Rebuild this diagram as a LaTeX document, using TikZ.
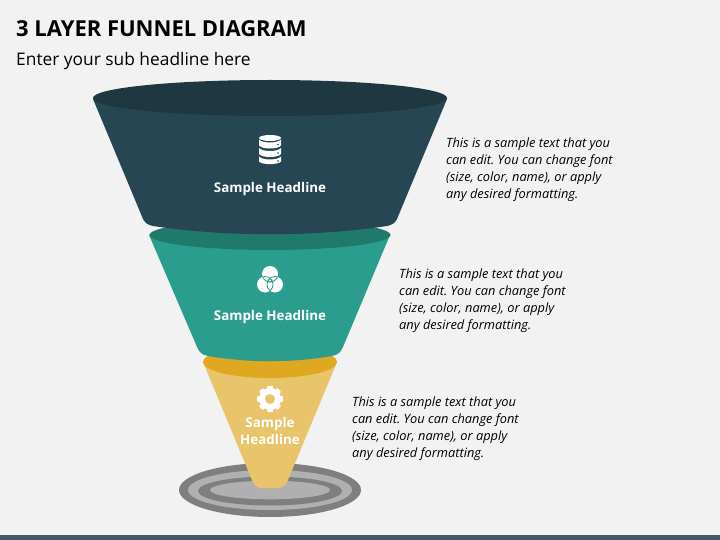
\documentclass[tikz,border=0pt]{standalone}
\usepackage{fontspec}
\setmainfont{Open Sans}
\definecolor{bgc}{HTML}{F2F2F2}
\definecolor{navy}{HTML}{264653}
\definecolor{navyd}{HTML}{1F3740}
\definecolor{teal1}{HTML}{2A9D8F}
\definecolor{teald}{HTML}{1F7A6C}
\definecolor{gold}{HTML}{E9C46A}
\definecolor{goldd}{HTML}{DEA821}
\definecolor{ringd}{HTML}{7F7F7F}
\definecolor{ringl}{HTML}{B0B0B0}
\definecolor{barc}{HTML}{44546A}
\tikzset{
  headl/.style={text=white,font=\fontsize{13.4}{17}\selectfont\bfseries,align=center,inner sep=0pt},
  noteb/.style={anchor=west,inner sep=0pt,align=left,font=\fontsize{12.8}{17}\selectfont\itshape\frenchspacing,text=black},
}
\newcommand{\notetext}{This is a sample text that you\\can edit. You can change font\\(size, color, name), or apply\\any desired formatting.}
\begin{document}
\begin{tikzpicture}[x=1pt,y=-1pt]
\useasboundingbox (0,0) rectangle (720,540);
\fill[bgc] (0,0) rectangle (720,540);
\fill[barc] (0,535) rectangle (720,540);
\node[anchor=west,inner sep=0pt,font=\fontsize{22}{28}\selectfont\bfseries] (title) at (16,29) {3 LAYER FUNNEL DIAGRAM};
\node[anchor=west,inner sep=0pt,font=\fontsize{17.35}{22}\selectfont] (sub) at (16,60.5) {Enter your sub headline here};
% base rings
\fill[ringd] (270,490) ellipse [x radius=91,y radius=27];
\fill[ringl] (270,490) ellipse [x radius=82,y radius=20];
\fill[ringd] (270,491) ellipse [x radius=72,y radius=14.5];
\fill[ringl] (270,490) ellipse [x radius=60,y radius=9.3];
% yellow
\fill[gold] (203,362) -- (252,480) .. controls (254,485) and (257,488) .. (262,488) -- (278,488) .. controls (283,488) and (286,485) .. (288,480) -- (337,362) -- cycle;
\fill[goldd] (270,362) ellipse [x radius=67,y radius=16];
% teal
\fill[teal1] (149,235) -- (197,347) .. controls (199,352) and (202,355) .. (208,356) .. controls (250,363) and (290,363) .. (332,356) .. controls (338,355) and (341,352) .. (343,347) -- (390,235) -- cycle;
\fill[teald] (270,235) ellipse [x radius=120.5,y radius=15];
% navy
\fill[navy] (93,99) -- (143,219) .. controls (145,223) and (148,225) .. (153,226) .. controls (225,237) and (315,237) .. (387,226) .. controls (392,225) and (395,223) .. (397,219) -- (447,99) -- cycle;
\fill[navyd] (270,98) ellipse [x radius=177,y radius=18];
% database icon
\fill[white] (259,138) arc[start angle=180,end angle=360,x radius=11,y radius=3] arc[start angle=0,end angle=180,x radius=11,y radius=3] -- cycle;
\fill[white] (259,139.5) .. controls (262,143.5) and (278,143.5) .. (281,139.5) -- (281,145.5) .. controls (278,149.5) and (262,149.5) .. (259,145.5) -- cycle;
\fill[white] (259,148) .. controls (262,152) and (278,152) .. (281,148) -- (281,154) .. controls (278,158) and (262,158) .. (259,154) -- cycle;
\fill[white] (259,156.5) .. controls (262,160.5) and (278,160.5) .. (281,156.5) -- (281,161.5) .. controls (278,165) and (262,165) .. (259,161.5) -- cycle;
\fill[navy] (278,144.5) circle (0.9) (278,153) circle (0.9) (278,161) circle (0.9);
% venn icon
\fill[white] (270,274) circle (8) (265,284.5) circle (8) (275,284.5) circle (8);
\foreach \ax/\ay/\bx/\by in {270/274/265/284.5,270/274/275/284.5,265/284.5/270/274,265/284.5/275/284.5,275/284.5/270/274,275/284.5/265/284.5}{
  \begin{scope}
    \clip (\bx,\by) circle (8);
    \draw[teal1,line width=0.8pt] (\ax,\ay) circle (8);
  \end{scope}
}
% gear icon
\foreach \a in {0,45,...,315}{
  \fill[white,rotate around={\a:(270,399)},rounded corners=0.8pt] (267.2,386) rectangle (272.8,392);
}
\fill[white] (270,399) circle (11);
\fill[gold] (270,399) circle (5);
% headlines
\node[headl] (h1) at (270,189) {Sample Headline};
\node[headl] (h2) at (270,317) {Sample Headline};
\node[headl] (h3) at (270,431) {Sample\\Headline};
% notes
\node[noteb] (n1) at (446,169.5) {\notetext};
\node[noteb] (n2) at (399,300.5) {\notetext};
\node[noteb] (n3) at (352,428.5) {\notetext};
\end{tikzpicture}
\end{document}
